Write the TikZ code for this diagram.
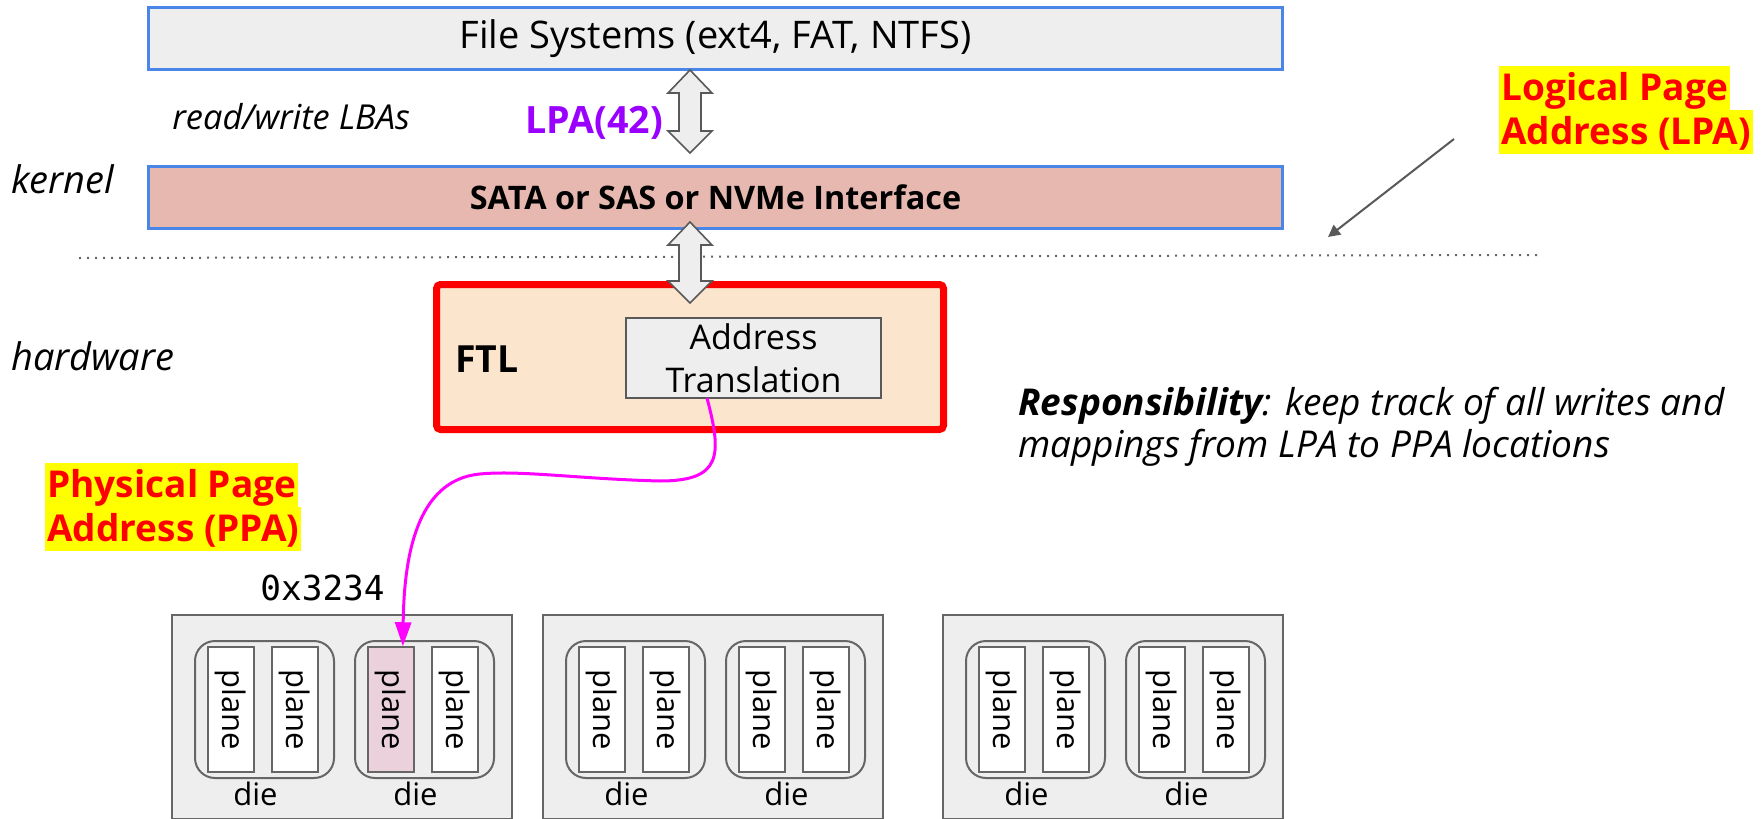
\documentclass[tikz,border=0pt]{standalone}
\usepackage{fontspec}
\setmainfont{Open Sans}
\newfontfamily\codefont{DejaVu Sans Mono}
\usetikzlibrary{calc,arrows.meta}

\definecolor{boxgray}{HTML}{EEEEEE}
\definecolor{lineblue}{HTML}{4A86E8}
\definecolor{satafill}{HTML}{E6B8AF}
\definecolor{ftlfill}{HTML}{FCE5CD}
\definecolor{edgegray}{HTML}{595959}
\definecolor{diegray}{HTML}{666666}
\definecolor{planepink}{HTML}{EAD1DC}
\definecolor{lpapurple}{HTML}{9900FF}
\definecolor{hilite}{HTML}{FFFF00}
\definecolor{mapline}{HTML}{FF00FF}

\newcommand{\fs}[2]{\fontsize{#1pt}{#2pt}\selectfont}
\newcommand{\updown}[2]{%
  \draw[dblarr] (#1) -- ($(#1)+(22,23)$) -- ($(#1)+(11,23)$) -- ($(#2)+(11,-22)$) -- ($(#2)+(22,-22)$) -- (#2)
    -- ($(#2)+(-22,-22)$) -- ($(#2)+(-11,-22)$) -- ($(#1)+(-11,23)$) -- ($(#1)+(-22,23)$) -- cycle;}

\begin{document}
\begin{tikzpicture}[x=0.5pt, y=-0.5pt,
  txt/.style={anchor=base west, inner sep=0pt},
  tier/.style={draw=lineblue, line width=1.5pt, minimum width=567pt, minimum height=31pt, inner sep=0pt},
  dblarr/.style={draw=edgegray, fill=boxgray, line width=0.8pt, line join=miter},
  hl/.style={fill=hilite, text=red, font=\bfseries\fs{18.5}{22}, inner xsep=1pt, inner ysep=0pt, text height=17pt, text depth=5pt, anchor=north west},
  pkg/.style={draw=diegray, fill=boxgray, line width=1pt, minimum width=170pt, minimum height=102pt, inner sep=0pt},
  die/.style={draw=diegray, line width=1pt, rounded corners=10pt, minimum width=69.5pt, minimum height=68.5pt, inner sep=0pt},
  plane/.style={draw=diegray, line width=0.75pt, rotate=-90, minimum width=62.5pt, minimum height=23pt, inner sep=0pt, font=\fs{15.5}{18}}]
\useasboundingbox (0,0) rectangle (1762,819);

\node[tier, fill=boxgray, font=\fs{19}{22}] (fs) at (715.5,38.5) {File Systems (ext4, FAT, NTFS)};
\node[tier, fill=satafill, font=\bfseries\fs{16.2}{19}] (sata) at (715.5,197) {SATA or SAS or NVMe Interface};

\node[txt, font=\itshape\fs{17.2}{20}] (rw) at (172,129) {read/write LBAs};
\node[txt, text=lpapurple, font=\bfseries\fs{18.8}{22}] (lpa) at (525,133) {LPA(42)};
\node[txt, font=\itshape\fs{19}{22}] (kern) at (11,193) {kernel};
\node[txt, font=\itshape\fs{19}{22}] (hw) at (11,370) {hardware};

\draw[diegray, line width=1pt, dash pattern=on 1pt off 3pt] (79,258) -- (1538,255);

\node[draw=red, line width=3.5pt, fill=ftlfill, rounded corners=2pt, minimum width=253.5pt, minimum height=72.5pt, inner sep=0pt] (ftl) at (690,357) {};
\node[txt, font=\bfseries\fs{18.7}{21}] (ftltext) at (455,372) {FTL};
\node[draw=edgegray, line width=1pt, fill=boxgray, minimum width=127.5pt, minimum height=40pt, inner sep=0pt, align=center, font=\fs{17}{21.5}] (xlat) at (753.5,358) {Address\\Translation};

\coordinate (io1) at (690,70);
\coordinate (io2) at (690,153);
\coordinate (io3) at (690,222);
\coordinate (io4) at (690,303);
\updown{io1}{io2}
\updown{io3}{io4}

\node[txt, font=\itshape\fs{18.5}{21}] (resp1) at (1018,415) {\textbf{Responsibility}: keep track of all writes and};
\node[txt, font=\itshape\fs{18.5}{21}] (resp2) at (1018,457) {mappings from LPA to PPA locations};

\node[hl] (lpa1) at (1499,66) {Logical Page};
\node[hl] (lpa2) at (1499,110) {Address (LPA)};
\node[hl] (ppa1) at (45,463) {Physical Page};
\node[hl] (ppa2) at (45,507) {Address (PPA)};

\coordinate (lpafrom) at (1454,139);
\coordinate (lpato) at (1328,237);
\draw[edgegray, line width=1pt, -{Triangle[length=6pt,width=6pt]}] (lpafrom) -- (lpato);

\node[txt, font=\codefont\fs{17.2}{20}] (ppaval) at (260,600) {0x3234};

\foreach \bx [count=\b] in {171,542,942} {
  \node[pkg, anchor=north west] (pkg\b) at (\bx,614) {};
  \foreach \dx [count=\d] in {23,183} {
    \node[die, anchor=north west] (die\b\d) at (\bx+\dx,640) {};
    \node[font=\fs{15.5}{18}, anchor=base] (dl\b\d) at ($(die\b\d.south)+(-9,26)$) {die};
    \foreach \px [count=\p] in {14,78} {
      \ifnum\b\d\p=121 \def\plfill{planepink}\else\def\plfill{white}\fi
      \node[plane, fill=\plfill] (pl\b\d\p) at (\bx+\dx+\px+23,709.5) {plane};
    }
  }
}

\coordinate (mapfrom) at (707,398);
\draw[mapline, line width=1.5pt, -{Triangle[length=12pt,width=8pt]}] (mapfrom) .. controls (722,455) and (722,481) .. (660,481)
  .. controls (580,479) and (520,470) .. (480,474)
  .. controls (415,480) and (404,560) .. ($(pl121.west)!0.5!(pl121.north west)$);
\end{tikzpicture}
\end{document}
